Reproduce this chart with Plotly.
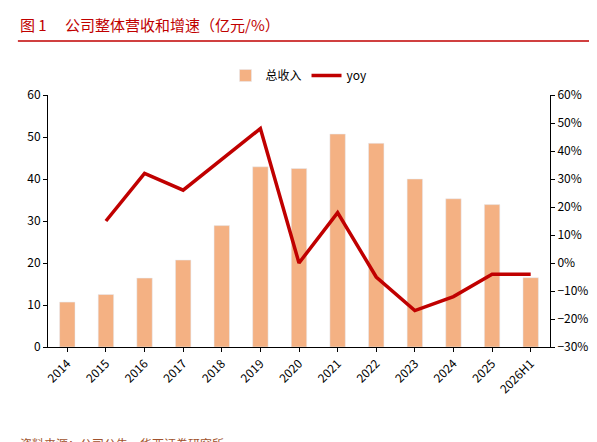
import plotly.graph_objects as go

years = ["2014","2015","2016","2017","2018","2019","2020","2021","2022","2023","2024","2025","2026H1"]
revenue = [10.7, 12.5, 16.4, 20.7, 28.9, 42.9, 42.5, 50.7, 48.5, 40.0, 35.3, 33.9, 16.5]
yoy = [None, 15, 32, 26, 37, 48, 0, 18, -5, -17, -12, -4, -4]

font = "Noto Sans CJK SC"
fig = go.Figure()
fig.add_trace(go.Bar(x=years, y=revenue, name="总收入", marker_color="#F4B183", width=0.4, yaxis="y"))
fig.add_trace(go.Scatter(x=years, y=yoy, name="yoy", mode="lines", line=dict(color="#C00000", width=3.5), yaxis="y2"))

fig.update_layout(
    width=597, height=442, paper_bgcolor="white", plot_bgcolor="white",
    font=dict(family=font, size=12, color="black"),
    margin=dict(l=40, r=55, t=87, b=103),
    showlegend=True,
    legend=dict(orientation="h", x=0.5, xanchor="center", y=1.02, yanchor="bottom", font=dict(size=12)),
    xaxis=dict(tickangle=-45, showline=True, linecolor="black", ticks="outside", ticklen=4, tickcolor="black", tickfont=dict(size=12)),
    yaxis=dict(range=[0, 60], dtick=10, showgrid=False, showline=True, linecolor="black", ticks="outside", ticklen=4, tickcolor="black", zeroline=False),
    yaxis2=dict(range=[-30, 60], dtick=10, overlaying="y", side="right", showgrid=False, showline=True, linecolor="black", ticks="outside", ticklen=4, tickcolor="black", ticksuffix="%", zeroline=False),
    bargap=0.5,
)
fig.add_annotation(text="图 1　 公司整体营收和增速（亿元/%）", xref="paper", yref="paper", x=-0.06, y=1.0, yshift=58,
                   xanchor="left", yanchor="bottom", showarrow=False, font=dict(size=15, color="#C00000", family=font))
fig.add_shape(type="line", xref="paper", yref="paper", x0=-0.06, x1=1.09, y0=1.214, y1=1.214,
              line=dict(color="#C00000", width=1.5))
fig.add_annotation(text="资料来源：公司公告，华西证券研究所", xref="paper", yref="paper", x=-0.06, y=0, yshift=-86,
                   xanchor="left", yanchor="top", showarrow=False, font=dict(size=12, color="#A0522D", family=font))
fig.write_html("out.html")
